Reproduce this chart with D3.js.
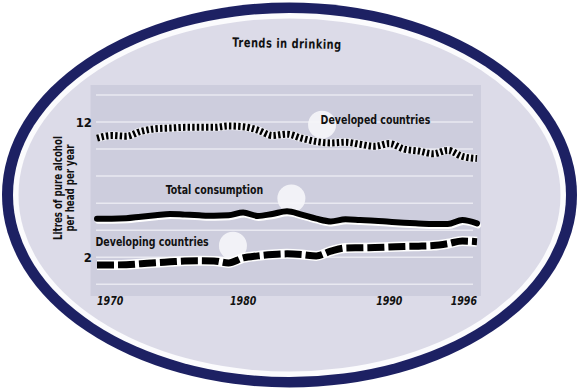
<!DOCTYPE html>
<html>
<head>
<meta charset="utf-8">
<script src="https://cdn.jsdelivr.net/npm/d3@7"></script>
<style>
  body { margin: 0; background: #fff; }
  svg text { font-family: "Liberation Sans Narrow", "DejaVu Sans Condensed", sans-serif; font-weight: bold; fill: #111; }
</style>
</head>
<body>
<script>
let width = 578, height = 388;

let years = d3.range(1970, 1997);
let developed = [10.8, 11.0, 10.95, 11.3, 11.5, 11.55, 11.6, 11.6, 11.6, 11.7, 11.65, 11.4, 11.0,
  11.1, 10.8, 10.55, 10.45, 10.5, 10.35, 10.2, 10.4, 10.0, 9.85, 9.65, 9.9, 9.45, 9.3];
let total = [4.85, 4.85, 4.88, 5.0, 5.1, 5.2, 5.15, 5.1, 5.07, 5.1, 5.3, 5.05, 5.2,
  5.4, 5.15, 4.85, 4.65, 4.8, 4.75, 4.7, 4.62, 4.55, 4.5, 4.45, 4.45, 4.75, 4.5];
let developing = [1.42, 1.43, 1.45, 1.52, 1.6, 1.66, 1.72, 1.74, 1.73, 1.58, 1.95, 2.1, 2.2,
  2.25, 2.2, 2.1, 2.45, 2.68, 2.7, 2.72, 2.76, 2.8, 2.82, 2.86, 3.0, 3.2, 3.15];

let gridValues = [0, 2, 4, 6, 8, 10, 12, 14];
let yTickLabels = [12, 2];
let xTickLabels = [1970, 1980, 1990, 1996];

// label text with its anchor in data coords, plus the white blob beside it
let labels = [
  { text: 'Developed countries', year: 1985.3, value: 11.85, blobYear: 1985.4, blobValue: 11.8 },
  { text: 'Total consumption', year: 1974.7, value: 6.65, blobYear: 1983.3, blobValue: 6.35 },
  { text: 'Developing countries', year: 1969.9, value: 2.85, blobYear: 1979.3, blobValue: 2.85 }
];

let x = d3.scaleLinear().domain([1970, 1996]).range([97, 477]);
let y = d3.scaleLinear().domain([0, 14]).range([284.3, 94.9]);

let narrow = 0.84;   // squeeze text horizontally, the original face is condensed

let svg = d3.select('body')
  .append('svg')
  .attr('width', width)
  .attr('height', height);

// oval frame
let cx = 289.5, cy = 195;
svg.append('ellipse').attr('cx', cx).attr('cy', cy).attr('rx', 287.5).attr('ry', 192.5).attr('fill', '#1d2163');
svg.append('ellipse').attr('cx', cx).attr('cy', cy).attr('rx', 276.5).attr('ry', 182).attr('fill', '#fbfbfd');
svg.append('ellipse').attr('cx', cx).attr('cy', cy).attr('rx', 271).attr('ry', 176.5).attr('fill', '#dcdbe8');

svg.append('text')
  .attr('transform', 'translate(287,48) rotate(1.2) scale(' + narrow + ',1)')
  .attr('text-anchor', 'middle')
  .style('font-size', '13px')
  .style('letter-spacing', '0.6px')
  .text('Trends in drinking');

// plot panel
svg.append('rect')
  .attr('x', 90.5).attr('y', 85)
  .attr('width', 390.5).attr('height', 211)
  .attr('fill', '#cdcddd');

svg.selectAll('line.grid')
  .data(gridValues)
  .join('line')
  .attr('class', 'grid')
  .attr('x1', 96).attr('x2', 473)
  .attr('y1', d => y(d)).attr('y2', d => y(d))
  .attr('stroke', '#e9e9f1')
  .attr('stroke-width', 1.5);

// white blobs
svg.selectAll('circle.blob')
  .data(labels)
  .join('circle')
  .attr('class', 'blob')
  .attr('cx', d => x(d.blobYear))
  .attr('cy', d => y(d.blobValue))
  .attr('r', 14)
  .attr('fill', '#f6f6f9')
  .attr('opacity', 0.9);

let line = d3.line()
  .x((d, i) => x(years[i]))
  .y(d => y(d))
  .curve(d3.curveMonotoneX);

// developed: hatched
svg.append('path').attr('d', line(developed))
  .attr('fill', 'none').attr('stroke', '#f1f1f6').attr('stroke-width', 8);
svg.append('path').attr('d', line(developed))
  .attr('fill', 'none').attr('stroke', '#000').attr('stroke-width', 7)
  .attr('stroke-dasharray', '2.4,2.2');

// total: solid with white edge below
svg.append('path').attr('d', line(total))
  .attr('transform', 'translate(1,2)')
  .attr('fill', 'none').attr('stroke', '#fff').attr('stroke-width', 6)
  .attr('stroke-linecap', 'round');
svg.append('path').attr('d', line(total))
  .attr('fill', 'none').attr('stroke', '#000').attr('stroke-width', 6)
  .attr('stroke-linecap', 'round');

// developing: dash with white ticks
svg.append('path').attr('d', line(developing))
  .attr('fill', 'none').attr('stroke', '#fff').attr('stroke-width', 10);
svg.append('path').attr('d', line(developing))
  .attr('fill', 'none').attr('stroke', '#000').attr('stroke-width', 7)
  .attr('stroke-dasharray', '17,4');

// series labels
svg.selectAll('text.label')
  .data(labels)
  .join('text')
  .attr('class', 'label')
  .attr('transform', d => 'translate(' + x(d.year) + ',' + y(d.value) + ') scale(' + narrow + ',1)')
  .style('font-size', '12.5px')
  .text(d => d.text);

// y ticks
svg.selectAll('text.ytick')
  .data(yTickLabels)
  .join('text')
  .attr('class', 'ytick')
  .attr('x', 92)
  .attr('y', d => y(d) + 5)
  .attr('text-anchor', 'end')
  .style('font-size', '13px')
  .text(d => d);

// x ticks
svg.selectAll('text.xtick')
  .data(xTickLabels)
  .join('text')
  .attr('class', 'xtick')
  .attr('transform', d => 'translate(' + x(d) + ',305) scale(' + narrow + ',1)')
  .attr('text-anchor', (d, i) => i == 0 ? 'start' : (i == xTickLabels.length - 1 ? 'end' : 'middle'))
  .style('font-size', '12.5px')
  .style('font-style', 'italic')
  .text(d => d);

// axis title
let title = svg.append('text')
  .attr('transform', 'translate(63, 188) rotate(-90) scale(0.8,1)')
  .attr('text-anchor', 'middle')
  .style('font-size', '12px');
title.append('tspan').attr('x', 0).attr('y', -1).text('Litres of pure alcohol');
title.append('tspan').attr('x', 0).attr('y', 11).text('per head per year');
</script>
</body>
</html>
